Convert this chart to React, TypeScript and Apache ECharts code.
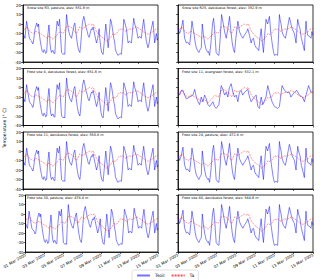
import React, { useEffect, useRef } from "react";
import * as echarts from "echarts";

const FONT = "DejaVu Sans";

const tickLabels = [
  "01 Mar 2005", "03 Mar 2005", "05 Mar 2005", "07 Mar 2005",
  "09 Mar 2005", "11 Mar 2005", "13 Mar 2005", "15 Mar 2005",
];

const panelTitles = [
  "Snow site R3, pasture, elev: 551.9 m",
  "Snow site R25, deciduous forest, elev: 352.9 m",
  "Frost site 4, deciduous forest, elev: 651.6 m",
  "Frost site 11, evergreen forest, elev: 532.1 m",
  "Frost site 21, deciduous forest, elev: 550.8 m",
  "Frost site 24, pasture, elev: 472.8 m",
  "Frost site 30, pasture, elev: 478.4 m",
  "Frost site 40, deciduous forest, elev: 544.6 m",
];

// [hours since 01 Mar 2005 00:00, °C]
const taData = [
  [0, -5], [5, -6], [9, -3], [13, -5], [17, -8], [21, -9], [26, -10], [30, -8], [34, -8], [38, -9],
  [42, -10], [46, -11], [50, -12], [54, -13], [59, -15], [63, -13], [67, -13], [71, -15], [75, -16], [79, -14],
  [84, -12], [88, -10], [92, -8], [96, -9], [100, -10], [104, -7], [108, -3], [112, -2], [117, -3], [121, -4],
  [125, -5], [129, -8], [133, -10], [137, -7], [141, -3], [145, -4], [150, -5], [154, -3], [158, -2], [162, -1],
  [166, 0], [170, -1], [175, 0], [179, -4], [183, -8], [187, -10], [191, -12], [195, -13], [199, -15], [203, -16],
  [208, -18], [212, -17], [216, -15], [220, -13], [224, -10], [228, -11], [233, -10], [237, -7], [241, -5], [245, -6],
  [249, -5], [253, -7], [257, -8], [261, -6], [266, -5], [270, -6], [274, -5], [278, -4], [282, -3], [286, -4],
  [290, -5], [294, -6], [299, -8], [303, -9], [307, -10], [311, -11], [315, -10], [319, -9], [324, -8], [328, -6],
  [332, -5], [336, -5],
];

const tsoilLeft = [
  [0, -10], [3, -13], [5, -15], [7, -5], [9, 3], [12, -5], [16, -15], [19, -17], [21.5, -18], [24, -21],
  [25.7, -20], [28, -12], [30, -5], [32, -2], [34, 1], [36, -2], [37, -3], [38.5, 0], [40.5, -10], [43, -18],
  [46, -25], [48, -29], [50.5, -30], [52, -27], [54.6, -28], [56, -31], [58.8, -30], [61, -15], [64.5, -1], [66, -8],
  [67, -20], [69, -27], [71, -30], [73, -28], [75, -28], [77, -31], [79.4, -31], [82, -10], [85, 3], [87, -1],
  [88.6, -2], [91, 5], [93, -10], [96, -30], [98, -31], [100, -32], [102, -31], [104, -32], [106, -10], [108.4, 10],
  [110, 4], [112.5, -5], [116.7, -12], [120.8, -15], [124, -8], [127, -1], [129, 1], [132, -10], [135, -20], [138, -27],
  [141.5, -30], [143, -25], [145.7, -10], [148, 2], [151.4, 8], [154, 3], [156.4, -3], [160, -8], [162, -12], [164.7, -14],
  [168, -8], [170.5, -5], [172, -6], [174.6, -3], [177, -8], [178.8, -12], [183, -20], [186, -15], [189.5, -5], [191, -15],
  [193.7, -25], [196, -30], [199.4, -32], [202, -20], [206, 0], [208, -8], [212, -25], [214, -15], [217.7, 5], [220, 2],
  [222.6, -5], [226, -15], [228.4, -20], [230, -27], [232.6, -30], [236, -33], [239, -32], [242, -31], [245, -32], [248, -15],
  [250.8, 5], [253, 2], [257.4, -5], [261.5, -20], [265, -18], [269.8, -20], [272, -10], [275.6, 6], [278, 0], [282.2, -5],
  [286.3, -15], [290, -13], [294.6, -15], [297, -5], [300.4, 5], [303, -5], [307, -18], [311, -25], [314, -20], [317, -10],
  [319.4, -5], [321, -2], [323.6, 3], [325, -5], [327.7, -20], [330, -14], [332, -10], [334, -17], [336, -15],
];

const tsoilRight = [
  [0, -4], [4, -10], [8, -5], [12.4, 4], [14, -5], [16.6, -15], [20.7, -20], [24, -19], [29, -22], [32, -10],
  [34.8, 3], [37, -3], [39.7, -10], [43, -20], [45.5, -25], [49, -28], [52, -30], [55, -27], [58, -25], [60.4, 0],
  [63, -10], [66.2, -20], [70, -27], [74.5, -30], [76, -29], [78.6, -33], [82, -20], [86, 0], [88.6, 6], [91, -5],
  [95, -30], [98, -32], [101.8, -33], [105, -15], [108.4, 10], [112, 2], [115.9, -8], [120, -15], [124, -5], [128.3, 8],
  [131, -5], [135, -20], [138, -27], [140.7, -30], [144, -15], [149, 3], [151, -2], [153, -8], [157, -12], [161.4, -15],
  [165, -12], [168, -10], [171, -8], [173.8, -5], [178, -12], [182, -20], [185, -16], [188, -15], [191, -22], [194.5, -25],
  [198, -26], [201, -28], [204, -15], [207, -5], [210, -20], [212.7, -30], [216, -10], [219, 5], [223, 0], [227.6, 8],
  [231, -10], [235.9, -25], [238, -30], [240, -33], [244, -32], [248, -33], [250, -15], [252.4, 10], [254, 5], [256.6, 0],
  [259, -8], [262.3, -12], [267.3, -15], [272, -5], [277.2, 7], [280, 2], [284, -5], [289.7, -10], [293.8, -20], [296, -5],
  [298, 5], [300, 0], [303.7, -5], [307, -15], [310, -20], [314.5, -28], [316, -15], [318.6, 3], [320, -5], [322.8, -12],
  [327, -13], [331, -15], [333, -8], [335, -10], [336, -12],
];

const tsoilSite11 = [
  [0, -5], [4.1, -8], [8.3, -3], [12.4, -3], [16.6, -8], [20.7, -12], [29, -10], [37.2, -8], [41.4, -2], [45.5, -10],
  [49.7, -15], [53.8, -18], [57.9, -10], [62, -15], [66.2, -8], [70.3, -12], [74.5, -18], [78.6, -20], [87, -15], [91, -20],
  [95, -22], [101.8, -18], [107.6, 2], [111.7, -2], [115.9, -8], [120, -5], [124, -10], [128, 0], [132.4, 4], [136.6, -5],
  [140.7, -10], [144.8, -8], [149, -15], [153, -5], [157, -3], [161, -8], [165.5, -5], [173.8, -2], [178, -10], [182, -15],
  [190, -10], [194.5, -8], [198.6, -20], [202.8, -22], [207, -10], [211, -18], [219, -10], [223.4, 2], [227.6, -5], [234, -15],
  [240, -20], [248, -22], [252.4, -20], [259, 2], [265, -3], [270.6, -5], [277, -5], [281, -10], [289.7, -5], [295.6, -3],
  [302, -8], [310, -10], [314.5, -15], [318.6, -8], [325, 2], [331, -5], [335, -5],
];

const panelTsoil = [
  tsoilLeft, tsoilRight, tsoilLeft, tsoilSite11,
  tsoilLeft, tsoilRight, tsoilLeft, tsoilRight,
];

const colLefts = [23, 178];
const rowTops = [5, 68.5, 132, 195];
const PW = 135;
const PH = 57;

export default function App() {
  const ref = useRef<HTMLDivElement>(null);
  useEffect(() => {
    const chart = echarts.init(ref.current!, null, { renderer: "svg" });
    const grids: any[] = [];
    const xAxes: any[] = [];
    const yAxes: any[] = [];
    const series: any[] = [];
    const titles: any[] = [];
    panelTitles.forEach((t, i) => {
      const col = i % 2;
      const row = Math.floor(i / 2);
      grids.push({
        left: colLefts[col], top: rowTops[row], width: PW, height: PH,
        show: true, borderColor: "#000", borderWidth: 0.8, backgroundColor: "#fff",
      });
      xAxes.push({
        type: "value", gridIndex: i, min: 0, max: 336, interval: 48,
        axisLine: { show: true, onZero: false, lineStyle: { color: "#000", width: 0.8 } },
        axisTick: { show: true, length: 2, lineStyle: { color: "#000", width: 0.6 } },
        splitLine: { show: false },
        axisLabel: {
          show: row === 3, rotate: 30, fontSize: 4, color: "#000", margin: 2.5,
          fontFamily: FONT,
          formatter: (v: number) => tickLabels[Math.round(v / 48)] ?? "",
        },
      });
      yAxes.push({
        type: "value", gridIndex: i, min: -40, max: 20, interval: 10,
        axisLine: { show: true, onZero: false, lineStyle: { color: "#000", width: 0.8 } },
        axisTick: { show: true, length: 2, lineStyle: { color: "#000", width: 0.6 } },
        splitLine: { show: false },
        axisLabel: { show: col === 0, fontSize: 4, color: "#000", margin: 2, fontFamily: FONT },
      });
      series.push({
        type: "line", name: "Tsoil", xAxisIndex: i, yAxisIndex: i,
        data: panelTsoil[i], showSymbol: false, symbol: "none",
        lineStyle: { color: "rgba(0,0,255,0.55)", width: 0.9 },
        itemStyle: { color: "rgba(0,0,255,0.55)" },
      });
      series.push({
        type: "line", name: "Ta", xAxisIndex: i, yAxisIndex: i,
        data: taData, showSymbol: false, symbol: "none",
        lineStyle: { color: "rgba(255,0,0,0.7)", width: 0.6, type: [2, 1] },
        itemStyle: { color: "rgba(255,0,0,0.7)" },
      });
      titles.push({
        text: t, left: colLefts[col] + 4, top: rowTops[row] + 1.5, padding: 0,
        textStyle: { fontSize: 3.4, fontWeight: "normal", color: "#000", fontFamily: FONT },
      });
    });

    chart.setOption({
      animation: false,
      backgroundColor: "#fff",
      title: titles,
      grid: grids,
      xAxis: xAxes,
      yAxis: yAxes,
      series,
      legend: {
        data: ["Tsoil", "Ta"], left: 132, top: 270,
        itemWidth: 13, itemHeight: 5, itemGap: 6, padding: [3, 4],
        borderColor: "#ccc", borderWidth: 0.6, borderRadius: 2,
        itemStyle: { opacity: 0 },
        textStyle: { fontSize: 4.5, color: "#000", fontFamily: FONT },
      },
      graphic: [
        {
          type: "text", x: 4, y: 128, rotation: Math.PI / 2,
          style: {
            text: "Temperature (° C)", fontSize: 4.5, fill: "#000", fontFamily: FONT,
            align: "center", verticalAlign: "middle",
            textAlign: "center", textVerticalAlign: "middle",
          },
        },
      ],
    });
    return () => chart.dispose();
  }, []);
  return (
    <div
      ref={ref}
      style={{ position: "fixed", left: 0, top: 0, width: 320, height: 280 }}
    />
  );
}
